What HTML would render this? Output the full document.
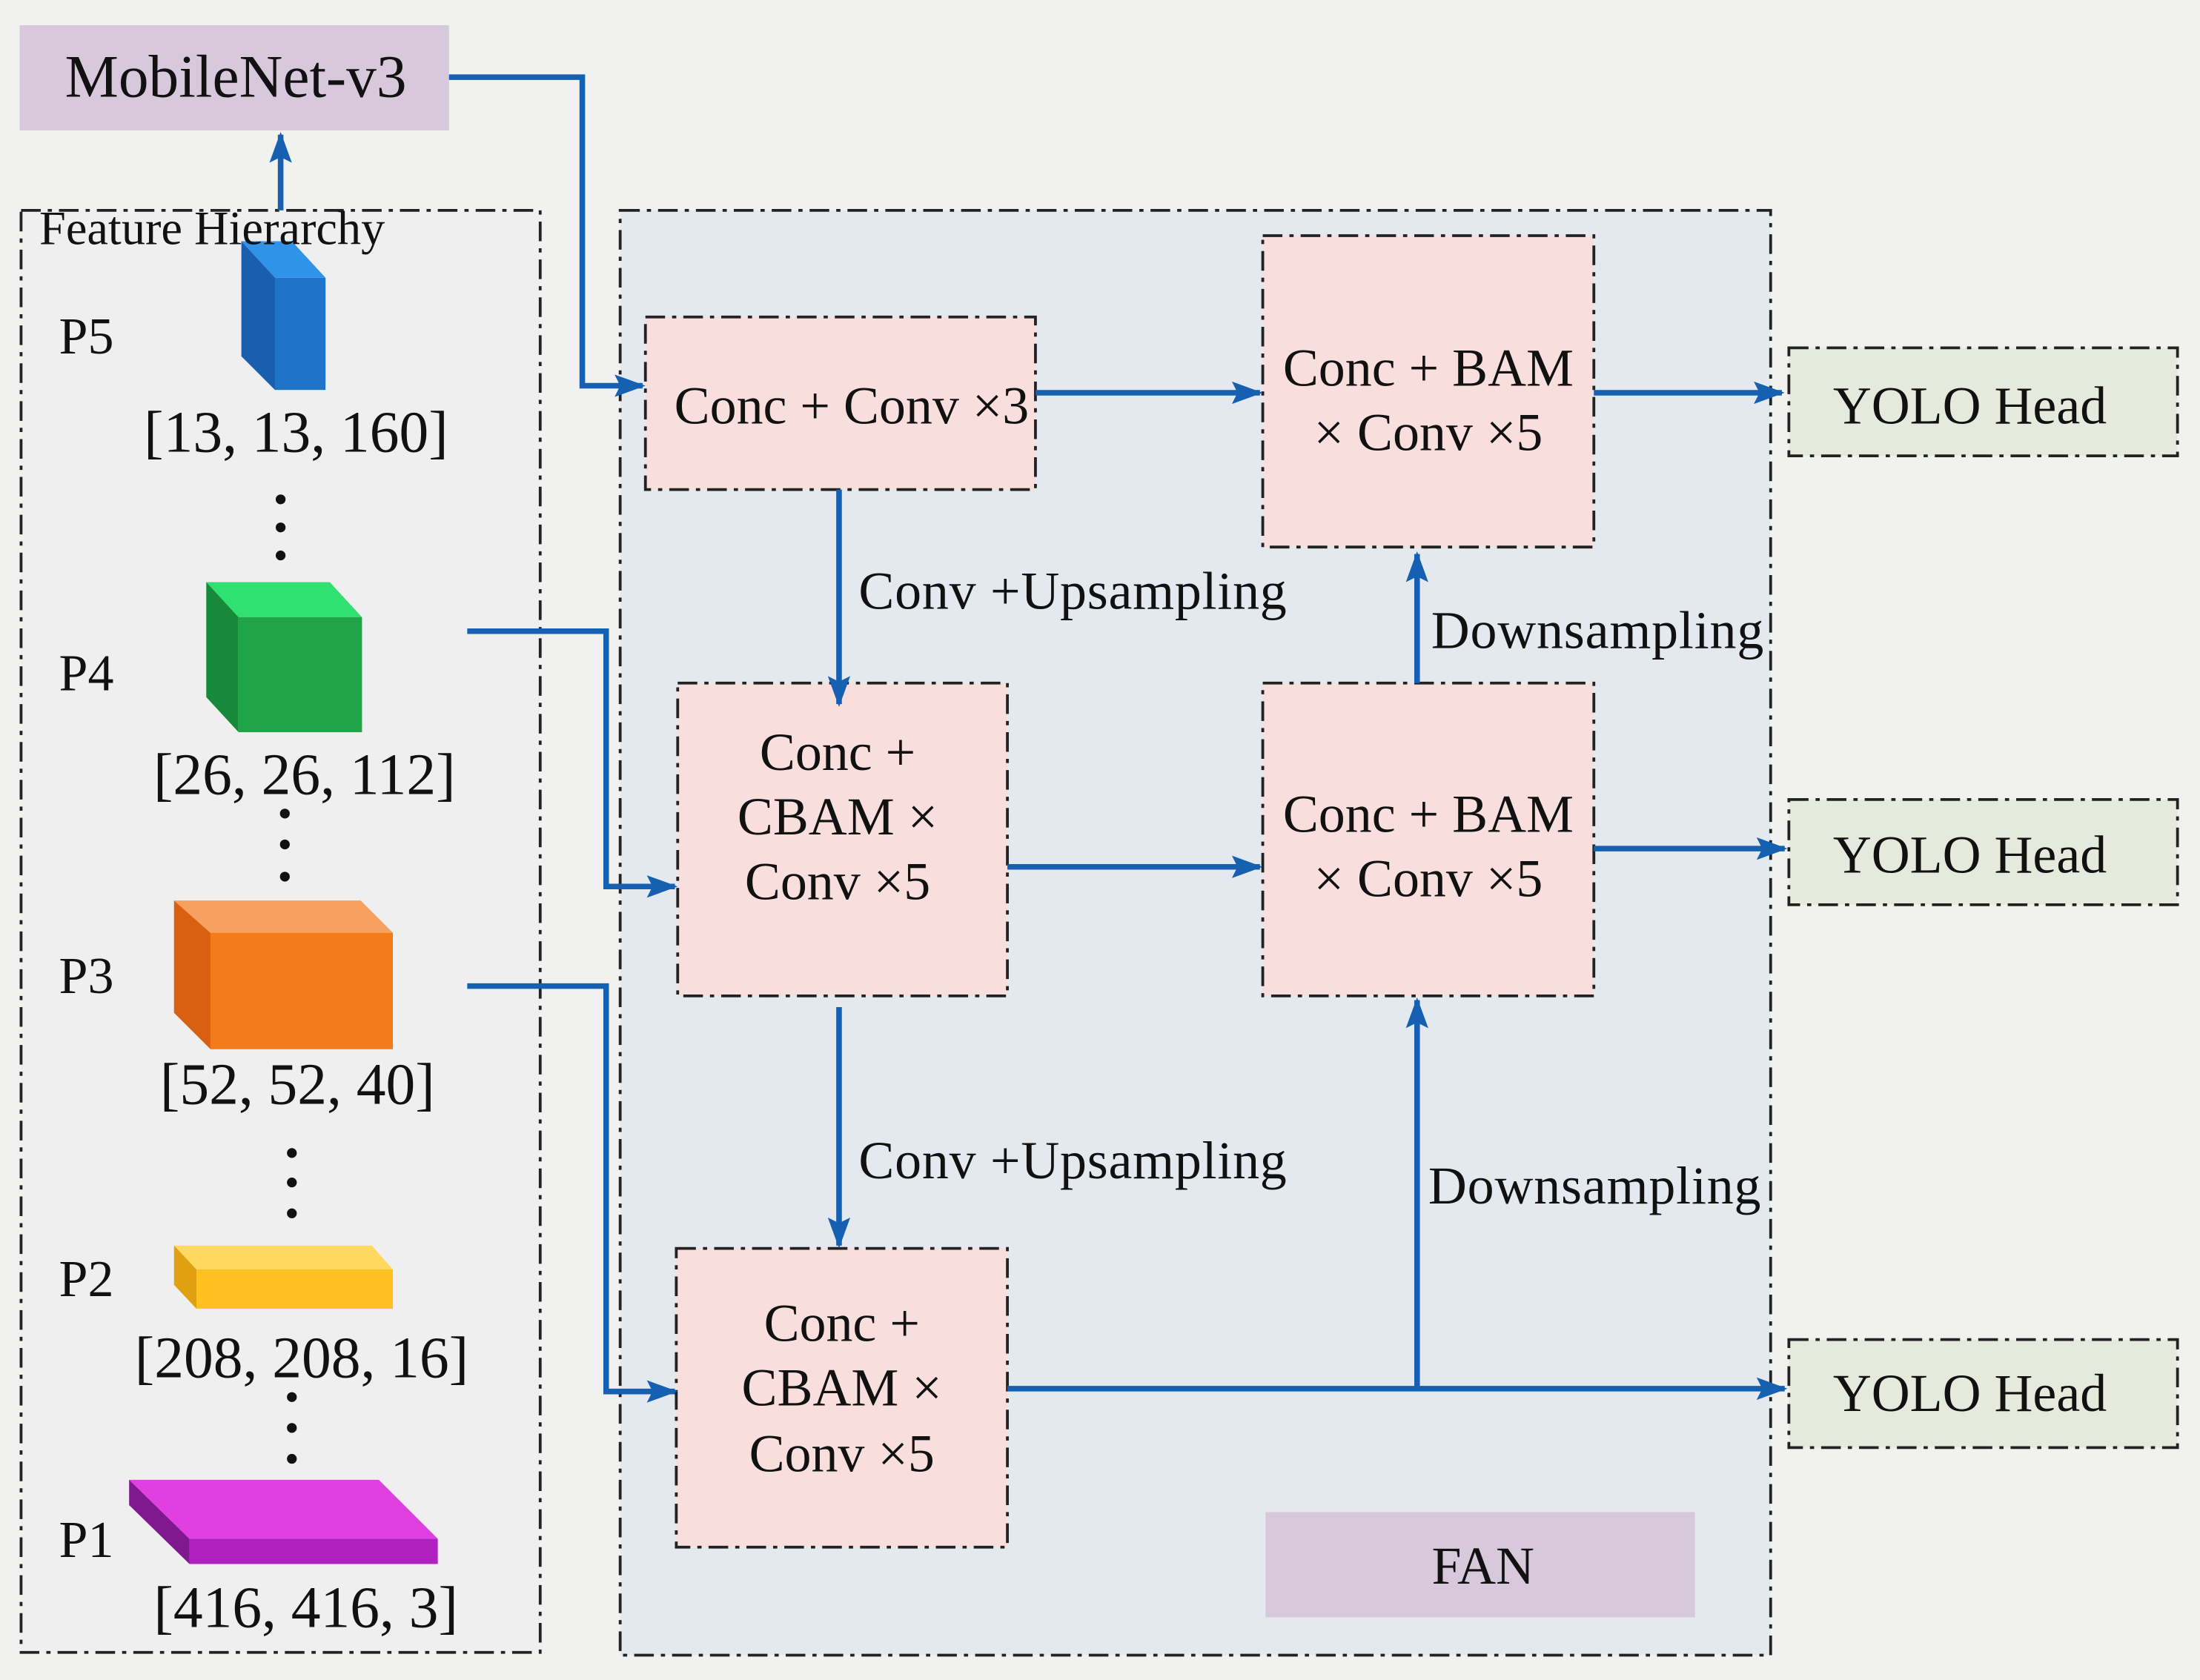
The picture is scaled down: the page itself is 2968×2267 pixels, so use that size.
<!DOCTYPE html>
<html><head><meta charset="utf-8"><style>html,body{margin:0;padding:0;background:#f2f2f2}svg{display:block}</style></head>
<body>
<svg width="2968" height="2267" viewBox="0 0 1568 1197.7" xmlns="http://www.w3.org/2000/svg" font-family="Liberation Serif, serif">
<defs>
<marker id="a" markerWidth="22" markerHeight="16" refX="20" refY="8" orient="auto" markerUnits="userSpaceOnUse" viewBox="0 0 22 16">
<path d="M0,0 L22,8 L0,16 L4,8 z" fill="#1560b0"/></marker>
</defs>
<rect width="1568" height="1198" fill="#f1f1f0"/>
<g stroke="#222" stroke-width="2" stroke-dasharray="14 5 3 5" >
<rect x="15" y="150" width="370" height="1028" fill="#efefef"/>
<rect x="442" y="150" width="820" height="1030" fill="#e3e9ee"/>
<rect x="460" y="226" width="278" height="123" fill="#f9dede"/>
<rect x="900" y="168" width="236" height="222" fill="#f9dede"/>
<rect x="483" y="487" width="235" height="223" fill="#f9dede"/>
<rect x="900" y="487" width="236" height="223" fill="#f9dede"/>
<rect x="482" y="890" width="236" height="213" fill="#f9dede"/>
<rect x="1275" y="248" width="277" height="77" fill="#e6eadc"/>
<rect x="1275" y="570" width="277" height="75" fill="#e6eadc"/>
<rect x="1275" y="955" width="277" height="77" fill="#e6eadc"/>
</g>
<rect x="14" y="18" width="306" height="75" fill="#d8c8dc"/>
<rect x="902" y="1078" width="306" height="75" fill="#d8c8dc"/>
<!-- cubes -->
<polygon points="172,172 208,172 232,198 196,198" fill="#2f93e8"/>
<polygon points="172,172 196,198 196,278 172,254" fill="#1a5eb0"/>
<rect x="196" y="198" width="36" height="80" fill="#1f73c8"/>
<polygon points="147,415 235,415 258,440 170,440" fill="#30e070"/>
<polygon points="147,415 170,440 170,522 147,497" fill="#168a3a"/>
<rect x="170" y="440" width="88" height="82" fill="#1fa548"/>
<polygon points="124,642 257,642 280,665 150,665" fill="#f8a060"/>
<polygon points="124,642 150,665 150,748 124,722" fill="#d86010"/>
<rect x="150" y="665" width="130" height="83" fill="#f57a1a"/>
<polygon points="124,888 265,888 280,905 140,905" fill="#ffd860"/>
<polygon points="124,888 140,905 140,933 124,916" fill="#e0a010"/>
<rect x="140" y="905" width="140" height="28" fill="#ffc020"/>
<polygon points="92,1055 270,1055 312,1097 135,1097" fill="#e040e0"/>
<polygon points="92,1055 135,1097 135,1115 92,1073" fill="#801890"/>
<rect x="135" y="1097" width="177" height="18" fill="#b020c0"/>
<!-- dots -->
<g fill="#111">
<circle cx="200" cy="356" r="3.5"/><circle cx="200" cy="376" r="3.5"/><circle cx="200" cy="396" r="3.5"/>
<circle cx="203" cy="580" r="3.5"/><circle cx="203" cy="602" r="3.5"/><circle cx="203" cy="625" r="3.5"/>
<circle cx="208" cy="822" r="3.5"/><circle cx="208" cy="843" r="3.5"/><circle cx="208" cy="865" r="3.5"/>
<circle cx="208" cy="996" r="3.5"/><circle cx="208" cy="1018" r="3.5"/><circle cx="208" cy="1040" r="3.5"/>
</g>
<!-- arrows -->
<g stroke="#1560b0" stroke-width="4" fill="none" marker-end="url(#a)">
<path d="M200,150 V96"/>
<path d="M320,55 H415 V275 H458"/>
<path d="M738,280 H898"/>
<path d="M1136,280 H1270"/>
<path d="M598,349 V502"/>
<path d="M333,450 H432 V632 H481"/>
<path d="M718,618 H898"/>
<path d="M1136,605 H1272"/>
<path d="M1010,487 V395"/>
<path d="M598,718 V888"/>
<path d="M333,703 H432 V992 H481"/>
<path d="M718,990 H1272"/>
<path d="M1010,990 V713"/>
</g>
<g fill="#111" font-size="38">
<text x="168" y="69" text-anchor="middle" font-size="43">MobileNet-v3</text>
<text x="28" y="174" font-size="34">Feature Hierarchy</text>
<g font-size="37"><text x="42" y="252">P5</text><text x="42" y="492">P4</text><text x="42" y="708">P3</text><text x="42" y="924">P2</text><text x="42" y="1110">P1</text></g>
<g text-anchor="middle">
<g font-size="42">
<text x="211" y="322">[13, 13, 160]</text>
<text x="217" y="566">[26, 26, 112]</text>
<text x="212" y="787">[52, 52, 40]</text>
<text x="215" y="982">[208, 208, 16]</text>
<text x="218" y="1160">[416, 416, 3]</text>
</g>
<text x="607" y="302">Conc + Conv ×3</text>
<text x="1018" y="275">Conc + BAM</text><text x="1018" y="321">× Conv ×5</text>
<text x="597" y="549">Conc +</text><text x="597" y="595">CBAM ×</text><text x="597" y="641">Conv ×5</text>
<text x="1018" y="593">Conc + BAM</text><text x="1018" y="639">× Conv ×5</text>
<text x="600" y="956">Conc +</text><text x="600" y="1002">CBAM ×</text><text x="600" y="1049">Conv ×5</text>
<text x="1404" y="302">YOLO Head</text>
<text x="1404" y="622">YOLO Head</text>
<text x="1404" y="1006">YOLO Head</text>
<text x="1057" y="1129">FAN</text>
</g>
<text x="612" y="434" textLength="305">Conv +Upsampling</text>
<text x="612" y="840" textLength="305">Conv +Upsampling</text>
<text x="1020" y="462" textLength="237">Downsampling</text>
<text x="1018" y="858" textLength="237">Downsampling</text>
</g>
</svg>
</body></html>
